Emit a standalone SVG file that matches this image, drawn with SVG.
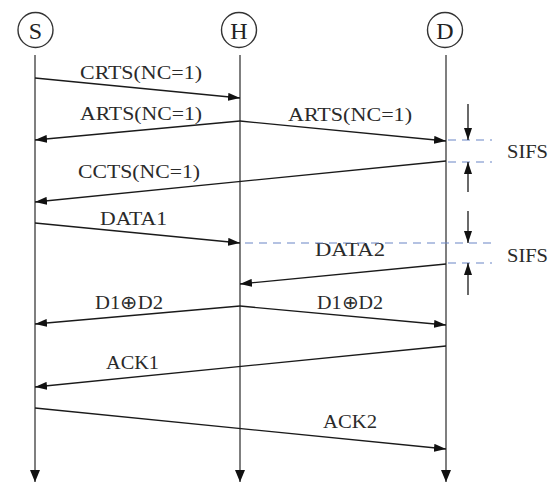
<svg xmlns="http://www.w3.org/2000/svg" width="551" height="483" viewBox="0 0 551 483">
  <style>
    .node circle { fill: #ffffff; stroke: #333333; stroke-width: 1.4; }
    .node text { font-family: "Liberation Serif", "Times New Roman", serif; font-size: 24px; fill: #222222; text-anchor: middle; }
    .life { stroke: #555555; stroke-width: 1.5; fill: none; }
    .msg { stroke: #1a1a1a; stroke-width: 1.3; fill: none; }
    .lbl { font-family: "Liberation Serif", "Times New Roman", serif; font-size: 19px; fill: #2a2a2a; }
    .gap { stroke: #6a86c6; stroke-width: 1.2; stroke-dasharray: 8 6; fill: none; }
    .tick { stroke: #1a1a1a; stroke-width: 1.3; fill: none; }
  </style>
  <defs>
    <marker id="head" viewBox="0 0 12 8" refX="12" refY="4" markerWidth="12" markerHeight="8" markerUnits="userSpaceOnUse" orient="auto">
      <path d="M0,0 L12,4 L0,8 Z" fill="#111111"/>
    </marker>
    <marker id="lifeHead" viewBox="0 0 10 12" refX="5" refY="12" markerWidth="10" markerHeight="12" markerUnits="userSpaceOnUse" orient="0">
      <path d="M0,0 L10,0 L5,12 Z" fill="#111111"/>
    </marker>
  </defs>

  <!-- stations with their time axes -->
  <g id="node-S" class="node">
    <line class="life" x1="35" y1="55" x2="35" y2="482" marker-end="url(#lifeHead)"/>
    <circle cx="35.5" cy="30" r="17.5"/>
    <text x="35.5" y="38.5">S</text>
  </g>
  <g id="node-H" class="node">
    <line class="life" x1="240" y1="55" x2="240" y2="482" marker-end="url(#lifeHead)"/>
    <circle cx="239" cy="30" r="17.5"/>
    <text x="239" y="38.5">H</text>
  </g>
  <g id="node-D" class="node">
    <line class="life" x1="446" y1="55" x2="446" y2="482" marker-end="url(#lifeHead)"/>
    <circle cx="445" cy="30" r="17.5"/>
    <text x="445" y="38.5">D</text>
  </g>

  <!-- frame exchanges -->
  <g id="connectors">
    <line class="msg" x1="35" y1="78" x2="240" y2="98" marker-end="url(#head)"/>
    <line class="msg" x1="240" y1="121" x2="35" y2="140" marker-end="url(#head)"/>
    <line class="msg" x1="240" y1="121" x2="446" y2="141" marker-end="url(#head)"/>
    <line class="msg" x1="446" y1="161" x2="35" y2="202" marker-end="url(#head)"/>
    <line class="msg" x1="35" y1="223" x2="240" y2="243" marker-end="url(#head)"/>
    <line class="msg" x1="446" y1="264" x2="240" y2="284" marker-end="url(#head)"/>
    <line class="msg" x1="240" y1="306" x2="35" y2="324" marker-end="url(#head)"/>
    <line class="msg" x1="240" y1="306" x2="446" y2="325" marker-end="url(#head)"/>
    <line class="msg" x1="446" y1="346" x2="35" y2="387" marker-end="url(#head)"/>
    <line class="msg" x1="35" y1="408" x2="446" y2="449" marker-end="url(#head)"/>
  </g>

  <!-- frame names -->
  <g id="labels">
    <text class="lbl" x="80" y="79" textLength="122" lengthAdjust="spacingAndGlyphs">CRTS(NC=1)</text>
    <text class="lbl" x="80" y="120" textLength="122" lengthAdjust="spacingAndGlyphs">ARTS(NC=1)</text>
    <text class="lbl" x="288" y="121" textLength="124" lengthAdjust="spacingAndGlyphs">ARTS(NC=1)</text>
    <text class="lbl" x="78" y="178" textLength="122" lengthAdjust="spacingAndGlyphs">CCTS(NC=1)</text>
    <text class="lbl" x="100" y="225" textLength="67" lengthAdjust="spacingAndGlyphs">DATA1</text>
    <text class="lbl" x="315" y="256" textLength="70" lengthAdjust="spacingAndGlyphs">DATA2</text>
    <text class="lbl" x="95" y="309" textLength="68" lengthAdjust="spacingAndGlyphs">D1⊕D2</text>
    <text class="lbl" x="317" y="309" textLength="66" lengthAdjust="spacingAndGlyphs">D1⊕D2</text>
    <text class="lbl" x="106" y="369" textLength="53" lengthAdjust="spacingAndGlyphs">ACK1</text>
    <text class="lbl" x="323" y="428" textLength="54" lengthAdjust="spacingAndGlyphs">ACK2</text>
  </g>

  <!-- short interframe spaces -->
  <g id="sifs-1">
    <line class="gap" x1="448" y1="140" x2="492" y2="140"/>
    <line class="gap" x1="448" y1="162" x2="492" y2="162"/>
    <line class="tick" x1="468" y1="104" x2="468" y2="140" marker-end="url(#head)"/>
    <line class="tick" x1="468" y1="192" x2="468" y2="162" marker-end="url(#head)"/>
    <text class="lbl" x="507" y="158" font-size="20" textLength="41" lengthAdjust="spacingAndGlyphs">SIFS</text>
  </g>
  <g id="sifs-2">
    <line class="gap" x1="245" y1="243" x2="492" y2="243"/>
    <line class="gap" x1="448" y1="263" x2="492" y2="263"/>
    <line class="tick" x1="468" y1="211" x2="468" y2="243" marker-end="url(#head)"/>
    <line class="tick" x1="468" y1="295" x2="468" y2="263" marker-end="url(#head)"/>
    <text class="lbl" x="507" y="262" font-size="20" textLength="41" lengthAdjust="spacingAndGlyphs">SIFS</text>
  </g>
</svg>
